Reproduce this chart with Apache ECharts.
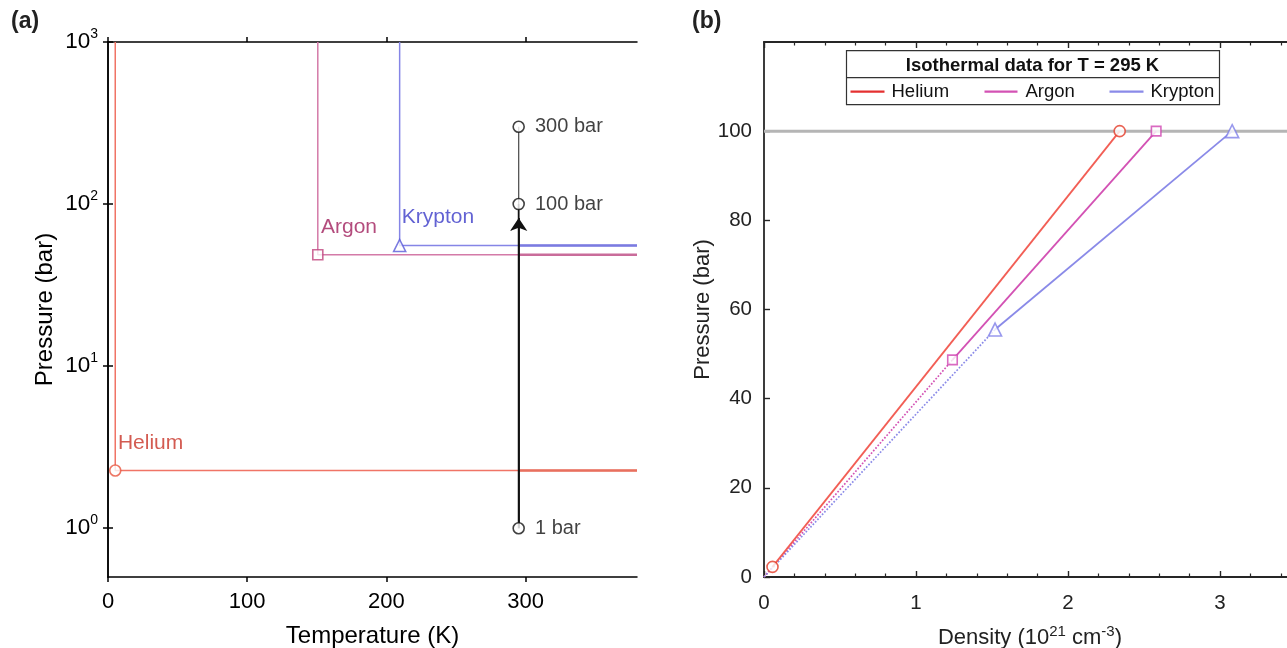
<!DOCTYPE html>
<html>
<head>
<meta charset="utf-8">
<style>
html,body{margin:0;padding:0;background:#fff;}
#chart{width:1287px;height:648px;}
</style>
<script src="https://cdn.jsdelivr.net/npm/echarts@6/dist/echarts.min.js"></script>
</head>
<body>
<div id="chart"></div>
<script>
// ---------- Panel (a) data: phase boundaries (Temperature K, Pressure bar) ----------
const heliumA  = [[5.2, 1000], [5.2, 2.27], [380, 2.27]];
const argonA   = [[150.7, 1000], [150.7, 48.7], [380, 48.7]];
const kryptonA = [[209.5, 1000], [209.5, 55.5], [380, 55.5]];
const heliumOverlapA  = [[295, 2.27], [380, 2.27]];
const argonOverlapA   = [[295, 48.7], [380, 48.7]];
const kryptonOverlapA = [[295, 55.5], [380, 55.5]];
const critPointsA = [[5.2, 2.27], [150.7, 48.7], [209.5, 55.5]];
const gasNames = ['Helium', 'Argon', 'Krypton'];
const pathPointsA = [[295, 1], [295, 100], [295, 300]];
const pathLabels = ['1 bar', '100 bar', '300 bar'];
const arrowPathA = [[295, 1], [295, 82]];
const tempTicks = [0, 100, 200, 300];
const pressureTicksA = [1, 10, 100, 1000];

// ---------- Panel (b) data: isotherm at 295 K (Density 1e21 cm^-3, Pressure bar) ----------
const heliumDottedB  = [[0, 0], [0.056, 2.27]];
const heliumSolidB   = [[0.056, 2.27], [2.34, 100]];
const argonDottedB   = [[0, 0], [1.24, 48.7]];
const argonSolidB    = [[1.24, 48.7], [2.58, 100]];
const kryptonDottedB = [[0, 0], [1.52, 55.5]];
const kryptonSolidB  = [[1.52, 55.5], [3.08, 100]];
const limitLineB = [[0, 100], [3.5, 100]];
const pressureTicksB = [0, 20, 40, 60, 80, 100];

const FONT = 'Liberation Sans, Arial, Helvetica, sans-serif';
const chart = echarts.init(document.getElementById('chart'), null, {renderer: 'canvas'});

const heC = '#f07466', arC = '#d47aa8', krC = '#8585e6';
const heD = '#e8705f', arD = '#c96c9a', krD = '#7b7be0';
const heB = '#f25e55', arB = '#d352b4', krB = '#8a8ae8';

function lineS(data, color, width, xi, yi, type, z) {
  return {type: 'line', data: data, xAxisIndex: xi, yAxisIndex: yi, showSymbol: false, symbol: 'none',
    lineStyle: {color: color, width: width, type: type || 'solid'}, z: z || 2, silent: true, animation: false};
}
function markerS(data, symbol, size, color, xi, yi, label) {
  return {type: 'scatter', data: data, xAxisIndex: xi, yAxisIndex: yi, symbol: symbol, symbolSize: size,
    itemStyle: {color: '#fff', borderColor: color, borderWidth: 1.6}, z: 5, silent: true, animation: false,
    label: label || {show: false}};
}
function gasLabel(text, color) {
  return {show: true, formatter: text, position: [9, -21.5], align: 'left', verticalAlign: 'middle',
    color: color, fontSize: 21, fontFamily: FONT};
}

const supRich = {sup: {fontSize: 14, lineHeight: 14, verticalAlign: 'top', fontFamily: FONT, color: '#000'}};

const option = {
  animation: false,
  backgroundColor: '#fff',
  textStyle: {fontFamily: FONT},
  grid: [
    {left: 108, top: 42, width: 529, height: 535, containLabel: false, outerBoundsMode: 'none'},
    {left: 764, top: 42, width: 532, height: 535, containLabel: false, outerBoundsMode: 'none'}
  ],
  xAxis: [
    {type: 'value', gridIndex: 0, min: 0, max: 380, interval: 100, position: 'bottom',
      name: 'Temperature (K)', nameLocation: 'middle', nameGap: 47,
      nameTextStyle: {fontSize: 24, color: '#000', fontFamily: FONT},
      axisLine: {show: true, lineStyle: {color: '#000', width: 1.5}},
      axisTick: {show: true, inside: false, length: 5, customValues: tempTicks, lineStyle: {color: '#000', width: 1.5}},
      axisLabel: {show: true, margin: 14, fontSize: 22, color: '#000', fontFamily: FONT, customValues: tempTicks},
      splitLine: {show: false}},
    {type: 'value', gridIndex: 0, min: 0, max: 380, interval: 100, position: 'top',
      axisLine: {show: true, lineStyle: {color: '#000', width: 1.5}},
      axisTick: {show: true, inside: false, length: 5, customValues: tempTicks, lineStyle: {color: '#000', width: 1.5}},
      axisLabel: {show: false}, splitLine: {show: false}},
    {type: 'value', gridIndex: 1, min: 0, max: 3.5, interval: 1, position: 'bottom',
      name: 'Density (10{sup|21} cm{sup|-3})', nameLocation: 'middle', nameGap: 47,
      nameTextStyle: {fontSize: 22, color: '#222', fontFamily: FONT, lineHeight: 28,
        rich: {sup: {fontSize: 15, lineHeight: 15, verticalAlign: 'top', color: '#222', fontFamily: FONT}}},
      axisLine: {show: true, lineStyle: {color: '#262626', width: 1.8}},
      axisTick: {show: true, inside: true, length: 6, lineStyle: {color: '#262626', width: 1.4}},
      minorTick: {show: true, splitNumber: 5, length: 3.5, lineStyle: {color: '#262626', width: 1.2}},
      axisLabel: {show: true, margin: 16, fontSize: 20.5, color: '#222', fontFamily: FONT, showMaxLabel: false,
        formatter: v => (Number.isInteger(v) ? String(v) : '')},
      splitLine: {show: false}},
    {type: 'value', gridIndex: 1, min: 0, max: 3.5, interval: 1, position: 'top',
      axisLine: {show: true, lineStyle: {color: '#262626', width: 1.8}},
      axisTick: {show: true, inside: true, length: 6, lineStyle: {color: '#262626', width: 1.4}},
      minorTick: {show: true, splitNumber: 5, length: 3.5, lineStyle: {color: '#262626', width: 1.2}},
      axisLabel: {show: false}, splitLine: {show: false}}
  ],
  yAxis: [
    {type: 'log', logBase: 10, gridIndex: 0, min: 0.5, max: 1000, position: 'left',
      name: 'Pressure (bar)', nameLocation: 'middle', nameGap: 51,
      nameTextStyle: {fontSize: 24, color: '#000', fontFamily: FONT},
      axisLine: {show: true, lineStyle: {color: '#000', width: 1.5}},
      axisTick: {show: true, inside: false, length: 5, customValues: pressureTicksA, lineStyle: {color: '#000', width: 1.5}},
      axisLabel: {show: true, margin: 10, fontSize: 22.5, lineHeight: 30, color: '#000', fontFamily: FONT, rich: supRich,
        customValues: pressureTicksA,
        formatter: v => '10{sup|' + Math.round(Math.log10(v)) + '}'},
      splitLine: {show: false}, minorTick: {show: false}},
    {type: 'log', logBase: 10, gridIndex: 0, min: 0.5, max: 1000, position: 'right',
      axisLine: {show: true, lineStyle: {color: '#000', width: 1.5}},
      axisTick: {show: true, inside: false, length: 5, customValues: pressureTicksA, lineStyle: {color: '#000', width: 1.5}},
      axisLabel: {show: false}, splitLine: {show: false}},
    {type: 'value', gridIndex: 1, min: 0, max: 120, interval: 20, position: 'left',
      name: 'Pressure (bar)', nameLocation: 'middle', nameGap: 46,
      nameTextStyle: {fontSize: 22, color: '#222', fontFamily: FONT},
      axisLine: {show: true, lineStyle: {color: '#262626', width: 1.8}},
      axisTick: {show: true, inside: true, length: 6, customValues: pressureTicksB, lineStyle: {color: '#262626', width: 1.4}},
      axisLabel: {show: true, margin: 12, fontSize: 20.5, color: '#222', fontFamily: FONT, customValues: pressureTicksB},
      splitLine: {show: false}}
  ],
  series: [
    // ---- panel (a)
    lineS(heliumA, heC, 1.5, 0, 0),
    lineS(argonA, arC, 1.5, 0, 0),
    lineS(kryptonA, krC, 1.5, 0, 0),
    lineS(heliumOverlapA, heD, 2.6, 0, 0, 'solid', 3),
    lineS(argonOverlapA, arD, 2.6, 0, 0, 'solid', 3),
    lineS(kryptonOverlapA, krD, 2.6, 0, 0, 'solid', 3),
    lineS([pathPointsA[1], pathPointsA[2]], '#555', 1.3, 0, 0, 'solid', 3),
    lineS([pathPointsA[0], pathPointsA[1]], '#111', 1.8, 0, 0, 'solid', 3),
    {type: 'lines', coordinateSystem: 'cartesian2d', xAxisIndex: 0, yAxisIndex: 0,
      data: [{coords: arrowPathA}], symbol: ['none', 'arrow'], symbolSize: [0, 13],
      lineStyle: {color: '#111', width: 1.8, opacity: 1, curveness: 0}, z: 4, silent: true, animation: false},
    markerS([critPointsA[0]], 'circle', 11, '#e8553f', 0, 0, gasLabel(gasNames[0], '#c83226')),
    markerS([critPointsA[1]], 'rect', 10, '#c0447e', 0, 0, gasLabel(gasNames[1], '#a01f5c')),
    markerS([critPointsA[2]], 'triangle', 12, '#5a5ad8', 0, 0, gasLabel(gasNames[2], '#3b3bc8')),
    {type: 'scatter', xAxisIndex: 0, yAxisIndex: 0, symbol: 'circle', symbolSize: 11,
      data: pathPointsA.map((p, i) => ({value: p, name: pathLabels[i]})),
      itemStyle: {color: '#fff', borderColor: '#111', borderWidth: 1.6}, z: 6, silent: true,
      label: {show: true, position: 'right', distance: 10, formatter: '{b}', color: '#111', fontSize: 20, fontFamily: FONT}},
    // ---- panel (b)
    lineS(limitLineB, '#b5b5b5', 3, 2, 2, 'solid', 1),
    lineS(heliumDottedB, heB, 1.6, 2, 2, 'dotted'),
    lineS(argonDottedB, arB, 1.7, 2, 2, 'dotted'),
    lineS(kryptonDottedB, krB, 1.7, 2, 2, 'dotted'),
    lineS(heliumSolidB, heB, 1.8, 2, 2),
    lineS(argonSolidB, arB, 1.8, 2, 2),
    lineS(kryptonSolidB, krB, 1.8, 2, 2),
    markerS([heliumSolidB[0], heliumSolidB[1]], 'circle', 11, '#e43a27', 2, 2),
    markerS([argonSolidB[0], argonSolidB[1]], 'rect', 9.5, '#d045b2', 2, 2),
    markerS([kryptonSolidB[0], kryptonSolidB[1]], 'triangle', 13, '#7f7fe8', 2, 2)
  ],
  graphic: [
    {type: 'text', left: 11, top: 10, style: {text: '(a)', font: 'bold 23px ' + FONT, fill: '#222'}},
    {type: 'text', left: 692, top: 10, style: {text: '(b)', font: 'bold 23px ' + FONT, fill: '#222'}},
    {type: 'group', left: 844, top: 50, children: [
      {type: 'rect', shape: {x: 0, y: 0, width: 373, height: 54}, style: {fill: '#fff', stroke: '#333', lineWidth: 1.2}},
      {type: 'line', shape: {x1: 0, y1: 27, x2: 373, y2: 27}, style: {stroke: '#333', lineWidth: 1.2}},
      {type: 'text', x: 186, y: 15, style: {text: 'Isothermal data for T = 295 K', font: 'bold 18.5px ' + FONT, fill: '#111', align: 'center', verticalAlign: 'middle'}},
      {type: 'line', shape: {x1: 4, y1: 41, x2: 38, y2: 41}, style: {stroke: '#e43030', lineWidth: 2.2}},
      {type: 'text', x: 45, y: 41, style: {text: gasNames[0], font: '18.5px ' + FONT, fill: '#111', verticalAlign: 'middle'}},
      {type: 'line', shape: {x1: 138, y1: 41, x2: 171, y2: 41}, style: {stroke: '#d352b4', lineWidth: 2.2}},
      {type: 'text', x: 179, y: 41, style: {text: gasNames[1], font: '18.5px ' + FONT, fill: '#111', verticalAlign: 'middle'}},
      {type: 'line', shape: {x1: 263, y1: 41, x2: 297, y2: 41}, style: {stroke: '#8a8ae8', lineWidth: 2.2}},
      {type: 'text', x: 304, y: 41, style: {text: gasNames[2], font: '18.5px ' + FONT, fill: '#111', verticalAlign: 'middle'}}
    ]}
  ]
};
chart.setOption(option);
</script>
</body>
</html>
